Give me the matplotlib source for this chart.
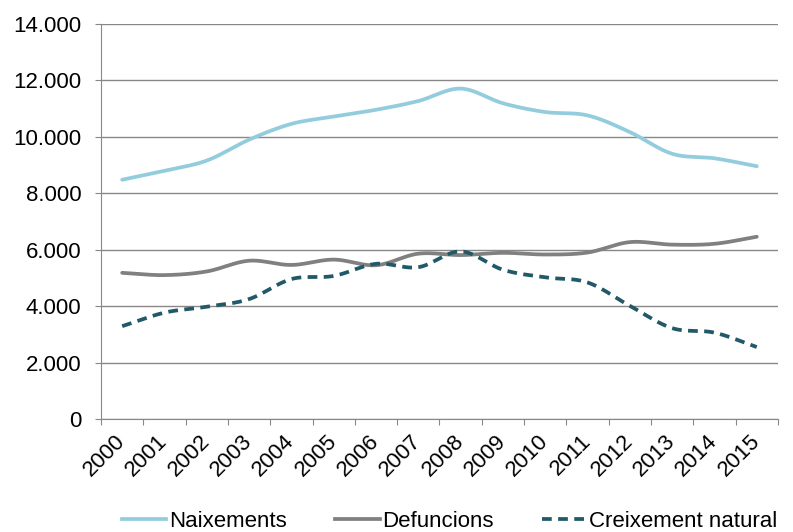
import matplotlib
matplotlib.use("Agg")
import matplotlib.pyplot as plt
from matplotlib.ticker import FuncFormatter, FixedLocator
from matplotlib.lines import Line2D
import numpy as np

plt.rcParams['font.family'] = ['Liberation Sans', 'DejaVu Sans']

years = ['2000', '2001', '2002', '2003', '2004', '2005', '2006', '2007',
         '2008', '2009', '2010', '2011', '2012', '2013', '2014', '2015']
naixements = [8480, 8800, 9160, 9900, 10460, 10720, 10960, 11270,
              11710, 11190, 10880, 10760, 10170, 9400, 9240, 8960]
defuncions = [5180, 5100, 5230, 5610, 5460, 5650, 5450, 5860,
              5810, 5890, 5830, 5900, 6270, 6180, 6210, 6460]
creixement = [3290, 3770, 3980, 4250, 4960, 5070, 5500, 5380,
              5940, 5290, 5020, 4840, 4010, 3220, 3060, 2550]


def smooth(x, y, n=30):
    # catmull-rom style smoothing, like the spreadsheet "smoothed line"
    x = np.asarray(x, float)
    y = np.asarray(y, float)
    px = np.concatenate([[2 * x[0] - x[1]], x, [2 * x[-1] - x[-2]]])
    py = np.concatenate([[2 * y[0] - y[1]], y, [2 * y[-1] - y[-2]]])
    xs, ys = [], []
    t = np.linspace(0, 1, n, endpoint=False)
    for i in range(1, len(px) - 2):
        for p, out in ((px, xs), (py, ys)):
            p0, p1, p2, p3 = p[i - 1], p[i], p[i + 1], p[i + 2]
            out.append(0.5 * (2 * p1 + (-p0 + p2) * t
                              + (2 * p0 - 5 * p1 + 4 * p2 - p3) * t ** 2
                              + (-p0 + 3 * p1 - 3 * p2 + p3) * t ** 3))
    xs.append([x[-1]])
    ys.append([y[-1]])
    return np.concatenate(xs), np.concatenate(ys)


fig = plt.figure(figsize=(7.93, 5.32), dpi=100)
ax = fig.add_axes([0.1274, 0.2124, 0.8536, 0.7425])

idx = np.arange(len(years))
c_nai = '#93CDDD'
c_def = '#808080'
c_cre = '#215968'
lw = 2.7
dash = (0, (2.6, 1.7))

sx, sy = smooth(idx, naixements)
ax.plot(sx, sy, color=c_nai, lw=lw, solid_capstyle='round', zorder=3)
sx, sy = smooth(idx, defuncions)
ax.plot(sx, sy, color=c_def, lw=lw, solid_capstyle='round', zorder=3)
sx, sy = smooth(idx, creixement)
ax.plot(sx, sy, color=c_cre, lw=lw, linestyle=dash, zorder=3)

ax.set_xlim(-0.5, len(years) - 0.5)
ax.set_ylim(0, 14000)
ax.set_yticks(np.arange(0, 14001, 2000))
ax.yaxis.set_major_formatter(FuncFormatter(lambda v, p: f'{int(v):,}'.replace(',', '.')))
ax.grid(axis='y', color='#888888', lw=1)
ax.set_axisbelow(True)

ax.xaxis.set_major_locator(FixedLocator(np.arange(-0.5, len(years), 1)))
ax.xaxis.set_minor_locator(FixedLocator(idx))
ax.set_xticklabels([])
ax.set_xticklabels(years, minor=True, rotation=45, ha='right', va='center',
                   rotation_mode='anchor')
ax.tick_params(axis='x', which='minor', length=0, pad=14, labelsize=16)
ax.tick_params(axis='x', which='major', length=4.5, color='#888888')
ax.tick_params(axis='y', length=4, color='#888888', labelsize=16, pad=10)

for s in ['top', 'right']:
    ax.spines[s].set_visible(False)
for s in ['left', 'bottom']:
    ax.spines[s].set_color('#888888')

handles = [Line2D([], [], color=c_nai, lw=lw),
           Line2D([], [], color=c_def, lw=lw),
           Line2D([], [], color=c_cre, lw=lw, linestyle=dash)]
fig.legend(handles, ['Naixements', 'Defuncions', 'Creixement natural'],
           loc='lower center', bbox_to_anchor=(0.567, -0.038), ncol=3,
           frameon=False, fontsize=16, handlelength=2.0, handletextpad=0.1,
           columnspacing=2.2)

fig.savefig('out.png', dpi=100)
